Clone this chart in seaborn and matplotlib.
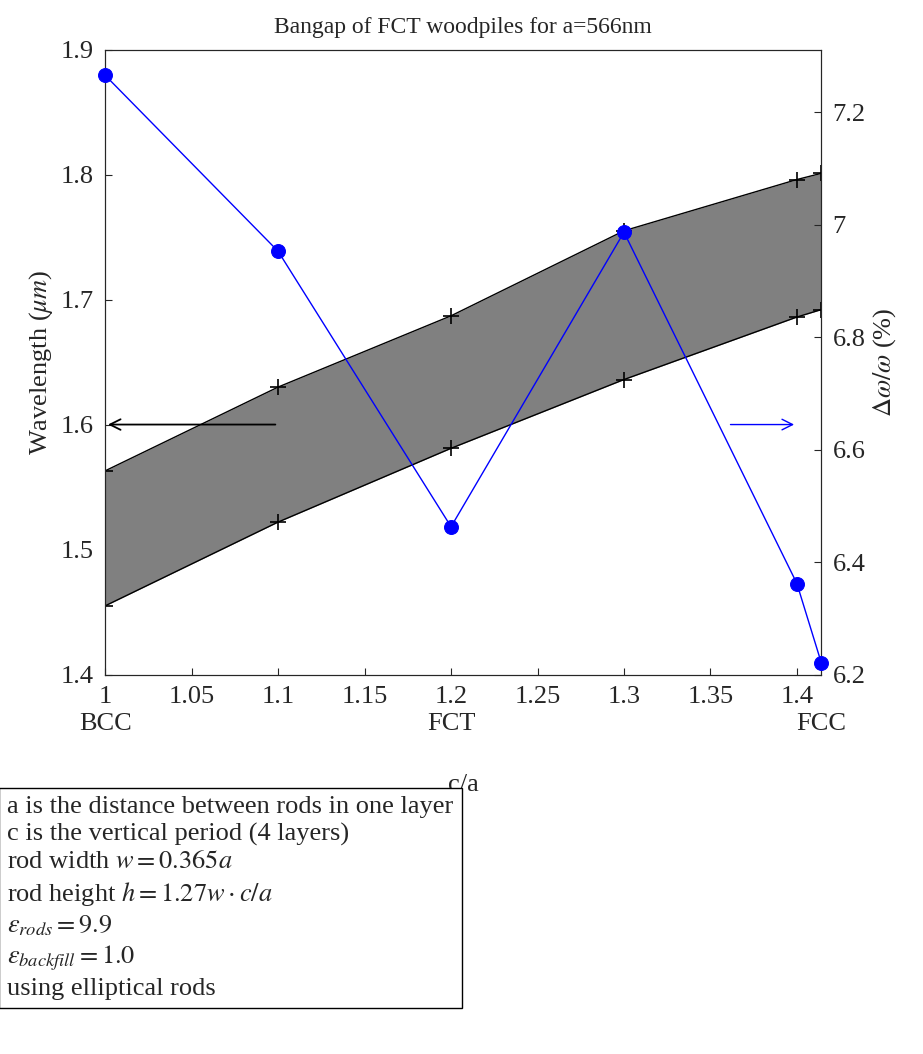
import numpy as np
import pandas as pd
import seaborn as sns
import matplotlib.pyplot as plt

sns.set_style("ticks")
plt.rcParams['font.family'] = ['Liberation Serif', 'DejaVu Serif']
plt.rcParams['mathtext.fontset'] = 'stix'
plt.rcParams['font.size'] = 19

# data
c_over_a = [1.0, 1.1, 1.2, 1.3, 1.4, np.sqrt(2)]
wl_low = [1.455, 1.522, 1.581, 1.636, 1.686, 1.692]
wl_high = [1.563, 1.630, 1.687, 1.755, 1.796, 1.801]
gap_pct = [7.266, 6.953, 6.463, 6.987, 6.362, 6.220]
lattice = ["BCC", "FCT", "FCC"]
lattice_x = [1.0, 1.2, np.sqrt(2)]

df = pd.DataFrame({"c/a": c_over_a, "low": wl_low, "high": wl_high, "gap": gap_pct})

fig = plt.figure(figsize=(9.23, 10.54), dpi=100)
ax = fig.add_axes([0.114, 0.36, 0.776, 0.593])
ax.fill_between(df["c/a"], df["low"], df["high"], color='#808080', lw=0, zorder=1)
sns.lineplot(data=df, x="c/a", y="low", ax=ax, color='black', lw=1, marker='+',
             markersize=11, mew=1.2, mec='black', zorder=2)
sns.lineplot(data=df, x="c/a", y="high", ax=ax, color='black', lw=1, marker='+',
             markersize=11, mew=1.2, mec='black', zorder=2)
ax.set_xlim(1, np.sqrt(2))
ax.set_ylim(1.4, 1.9)
ax.set_xticks([1, 1.05, 1.1, 1.15, 1.2, 1.25, 1.3, 1.35, 1.4])
ax.set_xticklabels(['1', '1.05', '1.1', '1.15', '1.2', '1.25', '1.3', '1.35', '1.4'])
ax.set_yticks([1.4, 1.5, 1.6, 1.7, 1.8, 1.9])
ax.set_ylabel(r'Wavelength ($\mu m$)')
ax.set_xlabel('c/a', labelpad=48)
ax.tick_params(direction='in', length=5, pad=8)
ax.annotate('', xy=(1.0, 1.6), xytext=(1.1, 1.6),
            arrowprops=dict(arrowstyle='->', color='black', lw=1.3))
ax.annotate('', xy=(1.4, 1.6), xytext=(1.36, 1.6),
            arrowprops=dict(arrowstyle='->', color='blue', lw=1))
for lx, lab in zip(lattice_x, lattice):
    ax.text(lx, -0.062, lab, transform=ax.get_xaxis_transform(), ha='center', va='top')
ax.set_title('Bangap of FCT woodpiles for a=566nm', fontsize=17, pad=12)

ax2 = ax.twinx()
sns.lineplot(data=df, x="c/a", y="gap", ax=ax2, color='blue', lw=1, marker='o',
             markersize=10, mec='blue', zorder=3, clip_on=False)
ax2.set_ylim(6.2, 7.312)
ax2.set_yticks([6.2, 6.4, 6.6, 6.8, 7.0, 7.2])
ax2.set_yticklabels(['6.2', '6.4', '6.6', '6.8', '7', '7.2'])
ax2.set_ylabel(r'$\Delta\omega/\omega$ (%)')
ax2.tick_params(direction='in', length=5, pad=8)
ax2.set_xlim(1, np.sqrt(2))

note = ("a is the distance between rods in one layer\n"
        "c is the vertical period (4 layers)\n"
        "rod width $w = 0.365a$\n"
        r"rod height $h = 1.27w \cdot c/a$" "\n"
        r"$\epsilon_{rods} = 9.9$" "\n"
        r"$\epsilon_{backfill} = 1.0$" "\n"
        "using elliptical rods")
fig.text(0.008, 0.245, note, ha='left', va='top', linespacing=1.3,
         bbox=dict(boxstyle='square,pad=0.3', fc='white', ec='black'))

fig.savefig('out.png', dpi=100)
